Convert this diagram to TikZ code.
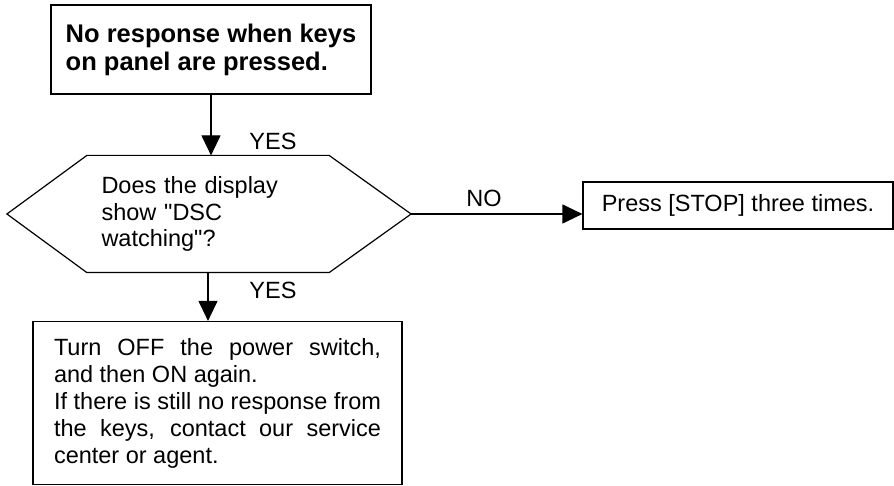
\documentclass[tikz,border=0pt]{standalone}
\usepackage{fontspec}
\setmainfont{Liberation Sans}[Ligatures=TeXOff]
\usetikzlibrary{arrows.meta}
\begin{document}
\begin{tikzpicture}[x=1pt,y=-1pt,
	box/.style={draw,line width=1.2pt,inner sep=0pt,font=\fontsize{23.5}{26.5}\selectfont},
	lbl/.style={font=\fontsize{23.5}{26.5}\selectfont},
	flow/.style={line width=1.2pt,-{Triangle[length=20pt,width=19pt]}}]
	\useasboundingbox (0,0) rectangle (894,486);
	% Boxes
	\node[box,minimum width=320pt,minimum height=89pt,align=left,font=\bfseries\fontsize{25.5}{28}\selectfont] (start) at (211,49.5) {No response when keys\\on panel are pressed.};
	\node[box,draw=none,minimum width=241pt,minimum height=116pt,text width=213pt,align=left] (dsc) at (208,214) {Does the display\\show "DSC\\watching"?};
	\node[box,minimum width=310pt,minimum height=47pt] (stop) at (738,205.5) {Press [STOP] three times.};
	\node[box,minimum width=369pt,minimum height=163pt,text width=327pt,align=justify,font=\fontsize{23.5}{27}\selectfont] (reset) at (217.5,403) {Turn OFF the power switch,\linebreak and then ON again.\newline If there is still no response from\linebreak the keys, contact our service\linebreak center or agent.};
	% Decision outline
	\draw[line width=1.2pt] (dsc.north west) -- (dsc.north east) -- ([xshift=82pt]dsc.east) coordinate (tip)
		-- (dsc.south east) -- (dsc.south west) -- ([xshift=-80pt]dsc.west) -- cycle;
	% Flow
	\draw[flow] (start.south) -- (start.south |- dsc.north);
	\draw[flow] (dsc.south) -- (dsc.south |- reset.north);
	\draw[flow] (tip) -- (tip -| stop.west);
	\node[lbl] (yesA) at (273,141) {YES};
	\node[lbl] (yesB) at (273,290) {YES};
	\node[lbl] (no) at (484,198) {NO};
\end{tikzpicture}
\end{document}
